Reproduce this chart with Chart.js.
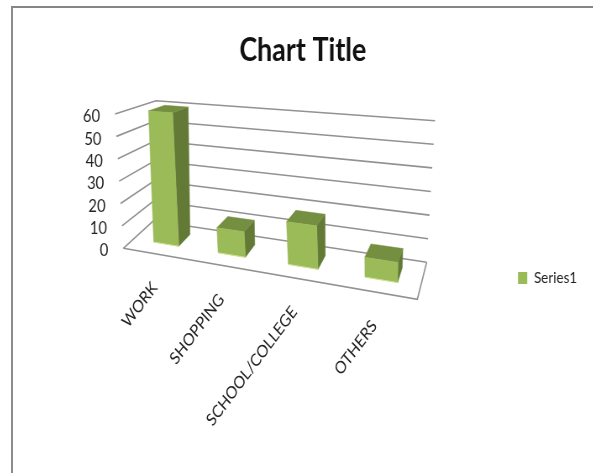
<!DOCTYPE html>
<html>
<head>
<meta charset="utf-8">
<title>Chart Title</title>
<script src="https://cdn.jsdelivr.net/npm/chart.js@4"></script>
<style>
    html, body { margin: 0; height: 100%; background: #fff; overflow: hidden; }
    #frame {
        position: absolute; left: 11px; top: 6px; right: -4px; bottom: -4px;
        border-top: 2px solid #868686; border-left: 2px solid #8c8c8c;
    }
    /* the picture is squeezed sideways, text included */
    canvas { display: block; transform: scaleX(0.84); transform-origin: 0 0; filter: blur(0.35px); }
</style>
</head>
<body>
<div id="frame"><canvas id="chart" width="690" height="465"></canvas></div>
<script>
const categories = ['WORK', 'SHOPPING', 'SCHOOL/COLLEGE', 'OTHERS'];
const seriesName = 'Series1';
const seriesValues = [60, 11, 18, 8];
const axisMax = 60;
const axisStep = 10;

const fontName = 'Lato, "Liberation Sans", sans-serif';
const frontColor = '#9bbb59';
const topColor = '#748f40';
const sideColor = '#637a37';
const edgeColor = '#cfe08f';
const gridColor = '#929292';

// canvas sits at (13, 8) inside the page and is drawn at 0.84 of its width
const OX = 13, OY = 8, SX = 0.84;
// corners of the 3D box as seen in the picture: front-left, front-right, back-right, back-left
const floorQuad = [[123.3, 248.3], [417.3, 299.3], [426.7, 262.3], [153.3, 220.8]];
const ceilQuad = [[115, 114], [420, 141], [435, 120.7], [156, 100.7]];
// bars only fill part of the depth of the box, and sit a little right of the category centre
const barFront = 0.33, barBack = 0.74, barShift = 0.007;

// Homography from the unit square to a quad
function makeHomography(q) {
    const [x0, y0] = q[0], [x1, y1] = q[1], [x2, y2] = q[2], [x3, y3] = q[3];
    const dx1 = x1 - x2, dx2 = x3 - x2, sx = x0 - x1 + x2 - x3;
    const dy1 = y1 - y2, dy2 = y3 - y2, sy = y0 - y1 + y2 - y3;
    const det = dx1 * dy2 - dx2 * dy1;
    const g = (sx * dy2 - dx2 * sy) / det;
    const h = (dx1 * sy - sx * dy1) / det;
    const a = x1 - x0 + g * x1, b = x3 - x0 + h * x3;
    const d = y1 - y0 + g * y1, e = y3 - y0 + h * y3;
    return (u, v) => {
        const w = g * u + h * v + 1;
        return [(a * u + b * v + x0) / w, (d * u + e * v + y0) / w];
    };
}
const floorAt = makeHomography(floorQuad);
const ceilAt = makeHomography(ceilQuad);

// u: along the categories, depth: front to back, level: 0 to 1 of the value axis
function project(u, depth, level) {
    const p = floorAt(u, depth), q = ceilAt(u, depth);
    return [(p[0] + (q[0] - p[0]) * level - OX) / SX, p[1] + (q[1] - p[1]) * level - OY];
}

function polygon(ctx, points, fill) {
    ctx.beginPath();
    points.forEach((p, i) => i ? ctx.lineTo(p[0], p[1]) : ctx.moveTo(p[0], p[1]));
    ctx.closePath();
    ctx.fillStyle = fill;
    ctx.fill();
    ctx.strokeStyle = fill;
    ctx.lineWidth = 0.5;
    ctx.stroke();
}

function line(ctx, points) {
    ctx.beginPath();
    points.forEach((p, i) => i ? ctx.lineTo(p[0], p[1]) : ctx.moveTo(p[0], p[1]));
    ctx.stroke();
}

const box3d = {
    id: 'box3d',
    // the legend goes below the plot, which a right legend cannot do by itself
    afterLayout(chart) {
        const legend = chart.legend;
        const h = legend.bottom - legend.top;
        legend.left = (518 - OX) / SX - 10;
        legend.right = legend.left + legend.width;
        legend.top = 260 - OY;
        legend.bottom = legend.top + h;
    },
    beforeDatasetsDraw(chart) {
        const ctx = chart.ctx, ys = chart.scales.y;
        ctx.save();
        ctx.strokeStyle = gridColor;
        ctx.lineWidth = 1.6;
        ys.ticks.forEach(t => {
            const level = t.value / axisMax;
            line(ctx, [project(0, 0, level), project(0, 1, level), project(1, 1, level)]);
        });
        line(ctx, [project(0, 0, 0), project(1, 0, 0), project(1, 1, 0)]);
        ctx.restore();
    },
    // the bars keep the geometry of the library, only the painting is replaced
    beforeDatasetDraw(chart, args) {
        const ctx = chart.ctx, xs = chart.scales.x, ys = chart.scales.y;
        ctx.save();
        args.meta.data.forEach(bar => {
            const u0 = (bar.x - bar.width / 2 - xs.left) / xs.width + barShift;
            const u1 = (bar.x + bar.width / 2 - xs.left) / xs.width + barShift;
            const level = (ys.bottom - bar.y) / ys.height;
            const d0 = barFront, d1 = barBack;
            polygon(ctx, [project(u1, d0, 0), project(u1, d1, 0), project(u1, d1, level), project(u1, d0, level)], sideColor);
            polygon(ctx, [project(u0, d0, level), project(u1, d0, level), project(u1, d1, level), project(u0, d1, level)], topColor);
            polygon(ctx, [project(u0, d0, 0), project(u1, d0, 0), project(u1, d0, level), project(u0, d0, level)], frontColor);
            ctx.strokeStyle = edgeColor;
            ctx.lineWidth = 1;
            line(ctx, [project(u0, d0, 0), project(u1, d0, 0)]);
        });
        ctx.restore();
        return false;
    },
    // tick labels follow the slanted floor and wall, so they are placed here
    afterDraw(chart) {
        const ctx = chart.ctx, xs = chart.scales.x, ys = chart.scales.y;
        ctx.save();
        ctx.fillStyle = '#222';
        ctx.textBaseline = 'middle';
        ctx.textAlign = 'right';

        ctx.font = '17.5px ' + fontName;
        ys.ticks.forEach(t => {
            const p = project(0, 0, t.value / axisMax);
            ctx.fillText(t.label, p[0] - 15 / SX, p[1] + 2.5);
        });

        ctx.font = '17.2px ' + fontName;
        xs.ticks.forEach((t, i) => {
            const u = (xs.getPixelForTick(i) - xs.left) / xs.width;
            const p = project(u, 0, 0);
            ctx.save();
            ctx.translate(p[0], p[1] + 31);
            ctx.rotate(-48.5 * Math.PI / 180);
            ctx.fillText(xs.getLabelForValue(t.value), 0, 0);
            ctx.restore();
        });
        ctx.restore();
    }
};

new Chart(document.getElementById('chart'), {
    type: 'bar',
    data: {
        labels: categories,
        datasets: [{
            label: seriesName,
            data: seriesValues,
            backgroundColor: frontColor,
            borderWidth: 0,
            barPercentage: 0.4,
            categoryPercentage: 1
        }]
    },
    options: {
        responsive: false,
        animation: false,
        layout: { padding: { bottom: 224 } },
        plugins: {
            tooltip: { enabled: false },
            title: {
                display: true,
                text: 'Chart Title',
                color: '#111',
                font: { family: fontName, size: 32, weight: 'bold' },
                padding: { top: 23, bottom: 44 }
            },
            legend: {
                position: 'right',
                align: 'start',
                labels: {
                    boxWidth: 11,
                    boxHeight: 12,
                    color: '#222',
                    font: { family: fontName, size: 16 }
                }
            }
        },
        scales: {
            x: {
                grid: { display: false },
                border: { display: false },
                ticks: { display: false }
            },
            y: {
                min: 0,
                max: axisMax,
                grid: { display: false },
                border: { display: false },
                ticks: { display: false, stepSize: axisStep }
            }
        }
    },
    plugins: [box3d]
});
</script>
</body>
</html>
